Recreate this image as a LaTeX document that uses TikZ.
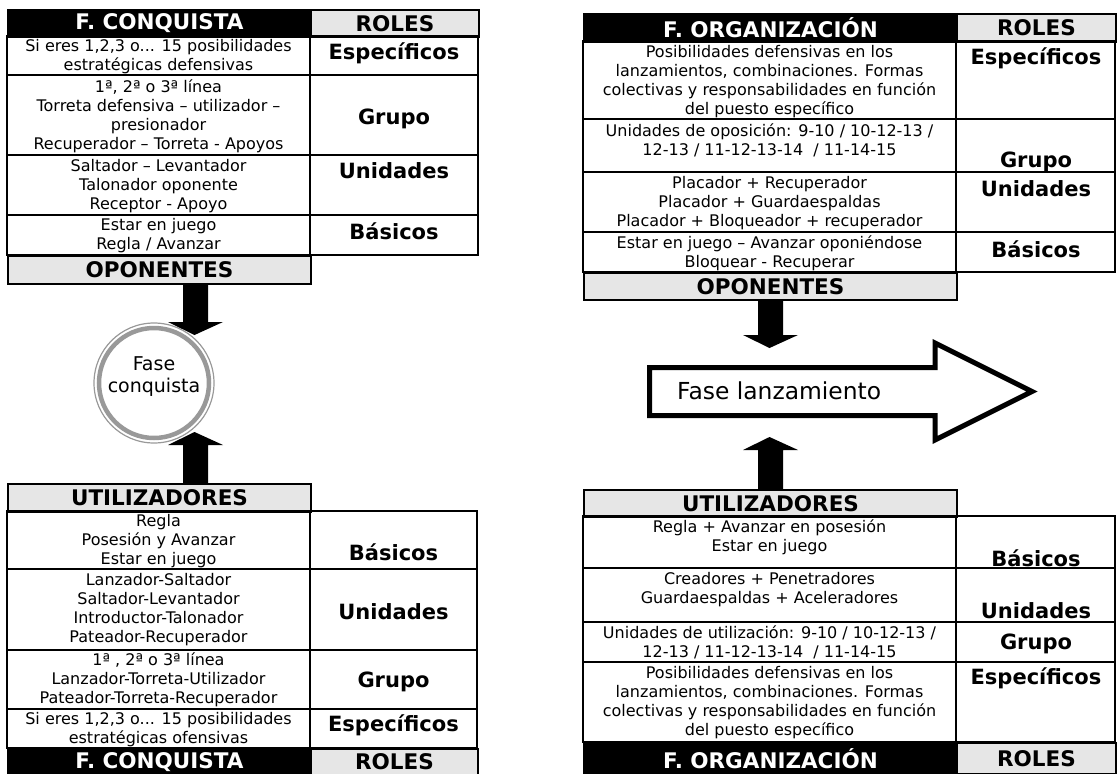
\documentclass[tikz,border=0pt]{standalone}
\usepackage{fontspec}
\setmainfont{DejaVu Sans}
\usetikzlibrary{calc}
\definecolor{rolgray}{HTML}{E6E6E6}
\definecolor{ringgray}{HTML}{999999}
\tikzset{
  cell/.style={draw, line width=2pt},
  hcell/.style={cell, anchor=north west, inner sep=0pt, font=\bfseries\fontsize{21.5}{24}\selectfont},
  blackcell/.style={hcell, fill=black, text=white},
  graycell/.style={hcell, fill=rolgray},
  txt/.style={align=center, inner sep=0pt, font=\fontsize{16}{19}\selectfont},
  rol/.style={inner sep=0pt, font=\bfseries\fontsize{21}{24}\selectfont},
}
% block arrow from #1 to tip #2 (vertical)
\newcommand{\blockarrow}[2]{%
  \fill let \p1=(#1), \p2=(#2), \p3=($(#2)!13pt!(#1)$) in
    (\x1-12.5pt,\y1) -- (\x1+12.5pt,\y1) -- (\x1+12.5pt,\y3) -- (\x1+27.5pt,\y3)
    -- (\x2,\y2) -- (\x1-27.5pt,\y3) -- (\x1-12.5pt,\y3) -- cycle;}

\begin{document}
\begin{tikzpicture}[x=1pt,y=-1pt]
\useasboundingbox (0,0) rectangle (1117,774);

% F. conquista, oponentes
\node[blackcell, minimum width=303, minimum height=27] (tlhead) at (7,9) {F. CONQUISTA};
\node[graycell, minimum width=168, minimum height=27] (tlroles) at (310,9) {ROLES};
\draw[cell] (7,36) rectangle (310,75) (310,36) rectangle (478,75)
  (7,75) rectangle (310,155) (310,75) rectangle (478,155)
  (7,155) rectangle (310,215) (310,155) rectangle (478,215)
  (7,215) rectangle (310,255) (310,215) rectangle (478,255);
\node[graycell, minimum width=303, minimum height=28] (tlopon) at (7,255) {OPONENTES};
\node[txt] (tl1) at (158.5,57) {Si eres 1,2,3 o... 15 posibilidades\\estratégicas defensivas};
\node[rol] (tlr1) at (394,53) {Específicos};
\node[txt] (tl2) at (158.5,116.5) {1ª, 2ª o 3ª línea\\Torreta defensiva – utilizador –\\presionador\\Recuperador – Torreta - Apoyos};
\node[rol] (tlr2) at (394,119) {Grupo};
\node[txt] (tl3) at (158.5,186) {Saltador – Levantador\\Talonador oponente\\Receptor - Apoyo};
\node[rol] (tlr3) at (394,171) {Unidades};
\node[txt] (tl4) at (158.5,236) {Estar en juego\\Regla / Avanzar};
\node[rol] (tlr4) at (394,231) {Básicos};

% fase conquista
\node[circle, draw=ringgray, line width=4.5pt, minimum size=110, inner sep=0pt] (fase) at (154,383) {};
\draw[ringgray, line width=1.2pt] (fase.center) circle (60);
\node[inner sep=0pt, align=center, font=\fontsize{19}{22}\selectfont] (fasetxt) at (154,377) {Fase\\conquista};
\coordinate (tip1) at (194.5,335);
\coordinate (tip2) at (194.5,432);

% F. conquista, utilizadores
\node[graycell, minimum width=303, minimum height=28] (blhead) at (7,483) {UTILIZADORES};
\draw[cell] (7,511) rectangle (310,569) (310,511) rectangle (477,569)
  (7,569) rectangle (310,650) (310,569) rectangle (477,650)
  (7,650) rectangle (310,709) (310,650) rectangle (477,709)
  (7,709) rectangle (310,748) (310,709) rectangle (477,748);
\node[blackcell, minimum width=303, minimum height=26] (blfoot) at (7,748) {F. CONQUISTA};
\node[graycell, minimum width=167, minimum height=26] (blroles) at (310,748) {ROLES};
\node[txt] (bl1) at (158.5,541) {Regla\\Posesión y Avanzar\\Estar en juego};
\node[rol] (blr1) at (393.5,552) {Básicos};
\node[txt] (bl2) at (158.5,610) {Lanzador-Saltador\\Saltador-Levantador\\Introductor-Talonador\\Pateador-Recuperador};
\node[rol] (blr2) at (393.5,612) {Unidades};
\node[txt] (bl3) at (158.5,680) {1ª , 2ª o 3ª línea\\Lanzador-Torreta-Utilizador\\Pateador-Torreta-Recuperador};
\node[rol] (blr3) at (393.5,682) {Grupo};
\node[txt] (bl4) at (158.5,730) {Si eres 1,2,3 o... 15 posibilidades\\estratégicas ofensivas};
\node[rol] (blr4) at (393.5,725) {Específicos};

\blockarrow{$(tlopon.south)+(36,0)$}{tip1}
\blockarrow{$(blhead.north)+(36,0)$}{tip2}

% F. organizacion, oponentes
\node[blackcell, minimum width=373, minimum height=28] (trhead) at (583,13) {F. ORGANIZACIÓN};
\node[graycell, minimum width=159, minimum height=28] (trroles) at (956,13) {ROLES};
\draw[cell] (583,41) rectangle (956,119) (956,41) rectangle (1115,119)
  (583,119) rectangle (956,172) (956,119) rectangle (1115,172)
  (583,172) rectangle (956,232) (956,172) rectangle (1115,232)
  (583,232) rectangle (956,272) (956,232) rectangle (1115,272);
\node[graycell, minimum width=373, minimum height=27] (tropon) at (583,272) {OPONENTES};
\node[txt] (tr1) at (769.5,81.5) {Posibilidades defensivas en los\\lanzamientos, combinaciones. Formas\\colectivas y responsabilidades en función\\del puesto específico};
\node[rol] (trr1) at (1036,58) {Específicos};
\node[txt] (tr2) at (769.5,140.5) {Unidades de oposición: 9-10 / 10-12-13 /\\12-13 / 11-12-13-14 \ / 11-14-15};
\node[rol] (trr2) at (1036,162) {Grupo};
\node[txt] (tr3) at (769.5,203) {Placador + Recuperador\\Placador + Guardaespaldas\\Placador + Bloqueador + recuperador};
\node[rol] (trr3) at (1036,189) {Unidades};
\node[txt] (tr4) at (769.5,253.5) {Estar en juego – Avanzar oponiéndose\\Bloquear - Recuperar};
\node[rol] (trr4) at (1036,249) {Básicos};

% fase lanzamiento
\draw[line width=5pt, miter limit=20] (649.5,367.5) -- (935,367.5) -- (935,343) -- (1032,391.5)
  -- (935,440) -- (935,415.5) -- (649.5,415.5) -- cycle;
\node[anchor=west, inner sep=0pt, font=\fontsize{23.4}{26}\selectfont] (lanz) at (677,391) {Fase lanzamiento};
\coordinate (tip3) at (769.5,348);
\coordinate (tip4) at (769.5,437);

% F. organizacion, utilizadores
\node[graycell, minimum width=373, minimum height=27] (brhead) at (583,489) {UTILIZADORES};
\draw[cell] (583,516) rectangle (956,568) (956,516) rectangle (1115,568)
  (583,568) rectangle (956,622) (956,568) rectangle (1115,622)
  (583,622) rectangle (956,662) (956,622) rectangle (1115,662)
  (583,662) rectangle (956,742) (956,662) rectangle (1115,742);
\node[blackcell, minimum width=373, minimum height=31] (brfoot) at (583,742) {F. ORGANIZACIÓN};
\node[graycell, minimum width=159, minimum height=31] (brroles) at (956,742) {ROLES};
\node[txt] (br1) at (769.5,537) {Regla + Avanzar en posesión\\Estar en juego};
\node[rol] (brr1) at (1036,558) {Básicos};
\node[txt] (br2) at (769.5,589.5) {Creadores + Penetradores\\Guardaespaldas + Aceleradores};
\node[rol] (brr2) at (1036,611) {Unidades};
\node[txt] (br3) at (769.5,642.5) {Unidades de utilización: 9-10 / 10-12-13 /\\12-13 / 11-12-13-14 \ / 11-14-15};
\node[rol] (brr3) at (1036,644) {Grupo};
\node[txt] (br4) at (769.5,702.5) {Posibilidades defensivas en los\\lanzamientos, combinaciones. Formas\\colectivas y responsabilidades en función\\del puesto específico};
\node[rol] (brr4) at (1036,678) {Específicos};

\blockarrow{tropon.south}{tip3}
\blockarrow{brhead.north}{tip4}
\end{tikzpicture}
\end{document}
